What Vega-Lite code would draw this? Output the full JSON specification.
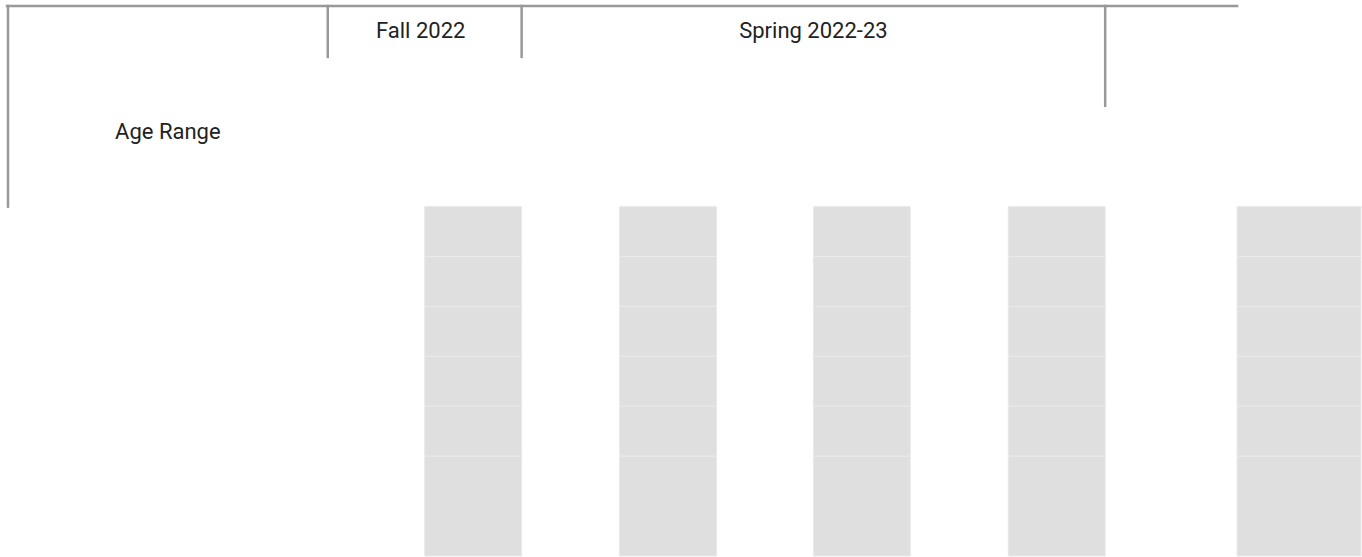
{
  "$schema": "https://vega.github.io/schema/vega-lite/v6.json",
  "width": 1362,
  "height": 557,
  "autosize": {"type": "fit", "contains": "padding"},
  "padding": 0,
  "background": "white",
  "config": {"view": {"stroke": null}},
  "datasets": {
    "columns": [
      {"col": "Fall 2022", "left": 425, "right": 522},
      {"col": "Spring 2022-23 (1)", "left": 620, "right": 717},
      {"col": "Spring 2022-23 (2)", "left": 814, "right": 911},
      {"col": "Spring 2022-23 (3)", "left": 1009, "right": 1106},
      {"col": "Total", "left": 1238, "right": 1362}
    ],
    "rows": [
      {"row": 1, "top": 207, "bottom": 257},
      {"row": 2, "top": 257, "bottom": 307},
      {"row": 3, "top": 307, "bottom": 357},
      {"row": 4, "top": 357, "bottom": 407},
      {"row": 5, "top": 407, "bottom": 457},
      {"row": 6, "top": 457, "bottom": 557}
    ],
    "cells": [
      {"col": "Fall 2022", "row": 1}, {"col": "Fall 2022", "row": 2}, {"col": "Fall 2022", "row": 3}, {"col": "Fall 2022", "row": 4}, {"col": "Fall 2022", "row": 5}, {"col": "Fall 2022", "row": 6},
      {"col": "Spring 2022-23 (1)", "row": 1}, {"col": "Spring 2022-23 (1)", "row": 2}, {"col": "Spring 2022-23 (1)", "row": 3}, {"col": "Spring 2022-23 (1)", "row": 4}, {"col": "Spring 2022-23 (1)", "row": 5}, {"col": "Spring 2022-23 (1)", "row": 6},
      {"col": "Spring 2022-23 (2)", "row": 1}, {"col": "Spring 2022-23 (2)", "row": 2}, {"col": "Spring 2022-23 (2)", "row": 3}, {"col": "Spring 2022-23 (2)", "row": 4}, {"col": "Spring 2022-23 (2)", "row": 5}, {"col": "Spring 2022-23 (2)", "row": 6},
      {"col": "Spring 2022-23 (3)", "row": 1}, {"col": "Spring 2022-23 (3)", "row": 2}, {"col": "Spring 2022-23 (3)", "row": 3}, {"col": "Spring 2022-23 (3)", "row": 4}, {"col": "Spring 2022-23 (3)", "row": 5}, {"col": "Spring 2022-23 (3)", "row": 6},
      {"col": "Total", "row": 1}, {"col": "Total", "row": 2}, {"col": "Total", "row": 3}, {"col": "Total", "row": 4}, {"col": "Total", "row": 5}, {"col": "Total", "row": 6}
    ],
    "lines": [
      {"part": "top", "x": 7, "x2": 1238, "y": 6, "y2": 6},
      {"part": "left", "x": 8, "x2": 8, "y": 6, "y2": 207},
      {"part": "fall-left", "x": 328, "x2": 328, "y": 6, "y2": 57},
      {"part": "spring-left", "x": 522, "x2": 522, "y": 6, "y2": 57},
      {"part": "spring-right", "x": 1106, "x2": 1106, "y": 6, "y2": 106}
    ],
    "labels": [
      {"label": "Fall 2022", "x": 421, "y": 31},
      {"label": "Spring 2022-23", "x": 814, "y": 31},
      {"label": "Age Range", "x": 168, "y": 132}
    ]
  },
  "layer": [
    {
      "data": {"name": "cells"},
      "transform": [
        {"lookup": "col", "from": {"data": {"name": "columns"}, "key": "col", "fields": ["left", "right"]}},
        {"lookup": "row", "from": {"data": {"name": "rows"}, "key": "row", "fields": ["top", "bottom"]}}
      ],
      "mark": {"type": "rect", "fill": "#dfdfdf", "stroke": "#e9e9e9", "strokeWidth": 1},
      "encoding": {
        "x": {"field": "left", "type": "quantitative", "scale": {"domain": [0, 1362], "nice": false, "zero": false}, "axis": null},
        "x2": {"field": "right"},
        "y": {"field": "top", "type": "quantitative", "scale": {"domain": [0, 557], "nice": false, "zero": false, "reverse": true}, "axis": null},
        "y2": {"field": "bottom"}
      }
    },
    {
      "data": {"name": "lines"},
      "mark": {"type": "rule", "stroke": "#999999", "strokeWidth": 2.5, "strokeCap": "square"},
      "encoding": {
        "x": {"field": "x", "type": "quantitative"},
        "x2": {"field": "x2"},
        "y": {"field": "y", "type": "quantitative"},
        "y2": {"field": "y2"}
      }
    },
    {
      "data": {"name": "labels"},
      "mark": {"type": "text", "font": "Roboto", "fontSize": 22, "color": "#222222", "align": "center", "baseline": "middle"},
      "encoding": {
        "x": {"field": "x", "type": "quantitative"},
        "y": {"field": "y", "type": "quantitative"},
        "text": {"field": "label"}
      }
    }
  ]
}
